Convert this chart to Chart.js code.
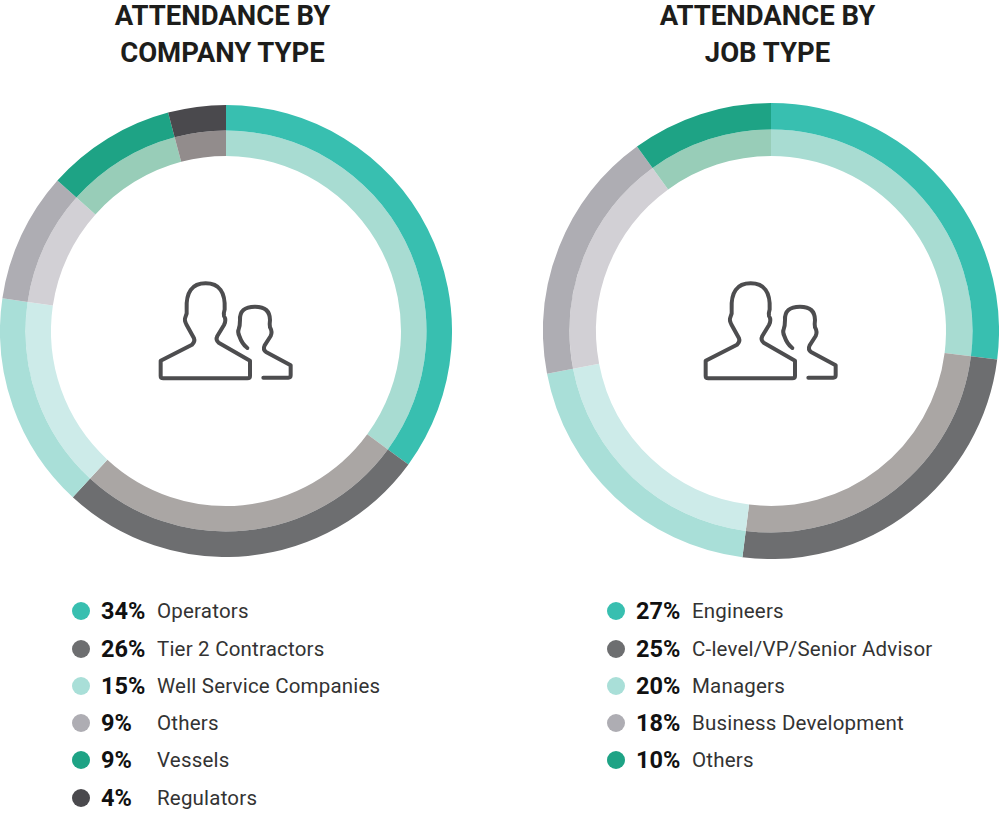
<!DOCTYPE html>
<html>
<head>
<meta charset="utf-8">
<title>Attendance</title>
<script src="https://cdn.jsdelivr.net/npm/chart.js@4"></script>
<style>
  html, body { margin: 0; padding: 0; background: #fff; }
  body { position: relative; width: 1000px; height: 813px; overflow: hidden; font-family: Roboto, sans-serif; }
  canvas { position: absolute; }
  .title { position: absolute; top: -3px; text-align: center; font-weight: 700; font-size: 27.5px; line-height: 37px; color: #1d1d1b; white-space: nowrap; }
  .row { position: absolute; height: 30px; line-height: 30px; font-size: 20.5px; letter-spacing: 0.2px; color: #333; white-space: nowrap; }
  .dot { position: absolute; left: 0; top: 6px; width: 18px; height: 18px; border-radius: 50%; }
  .pct { position: absolute; left: 29px; font-weight: 700; font-size: 23.5px; letter-spacing: 0; color: #111; }
  .name { position: absolute; left: 85px; }
  svg { position: absolute; top: 270px; }
</style>
</head>
<body>
<div class="title" style="left:0;width:445px">ATTENDANCE BY<br>COMPANY TYPE</div>
<div class="title" style="left:545px;width:445px">ATTENDANCE BY<br>JOB TYPE</div>
<canvas id="companyChart" width="452" height="452" style="left:0;top:105px;width:452px;height:452px"></canvas>
<canvas id="jobChart" width="456" height="456" style="left:543px;top:103px;width:456px;height:456px"></canvas>
<div id="legends"></div>

<script>
// Company type
const companyLabels = ["Operators", "Tier 2 Contractors", "Well Service Companies", "Others", "Vessels", "Regulators"];
const companyValues = [34, 26, 15, 9, 9, 4];
const companyOuter = ["#38bfb0", "#6d6e70", "#a9dfd8", "#aeadb3", "#1ea385", "#4a494d"];
const companyInner = ["#a8dcd2", "#aaa6a4", "#cdebe9", "#d2d0d5", "#98cdb8", "#928c8c"];

// Job type
const jobLabels = ["Engineers", "C-level/VP/Senior Advisor", "Managers", "Business Development", "Others"];
const jobValues = [27, 25, 20, 18, 10];
const jobOuter = ["#38bfb0", "#6d6e70", "#a9dfd8", "#aeadb3", "#1ea385"];
const jobInner = ["#a8dcd2", "#aaa6a4", "#cdebe9", "#d2d0d5", "#98cdb8"];

function ring(id, labels, values, outer, inner, cutout) {
  new Chart(document.getElementById(id), {
    type: "doughnut",
    data: {
      labels: labels,
      datasets: [
        { data: values, backgroundColor: outer, borderWidth: 0 },
        { data: values, backgroundColor: inner, borderWidth: 0 },
      ],
    },
    options: {
      responsive: false,
      animation: false,
      cutout: cutout,
      plugins: { legend: { display: false }, tooltip: { enabled: false } },
    },
  });
}

ring("companyChart", companyLabels, companyValues, companyOuter, companyInner, 175);
ring("jobChart", jobLabels, jobValues, jobOuter, jobInner, 175);

// Legends
function legend(labels, values, colors, x) {
  const rowY = [596, 634, 671, 708, 745, 783];
  labels.forEach((label, i) => {
    const row = document.createElement("div");
    row.className = "row";
    row.style.left = x + "px";
    row.style.top = rowY[i] + "px";
    row.innerHTML = '<span class="dot" style="background:' + colors[i] + '"></span>' +
      '<span class="pct">' + values[i] + '%</span><span class="name">' + label + "</span>";
    document.getElementById("legends").appendChild(row);
  });
}
legend(companyLabels, companyValues, companyOuter, 72);
legend(jobLabels, jobValues, jobOuter, 607);

// People icon in the middle of each ring
[140, 685].forEach((x) => {
  const svg = document.createElementNS("http://www.w3.org/2000/svg", "svg");
  svg.setAttribute("viewBox", "0 0 510 360");
  svg.setAttribute("width", 170);
  svg.setAttribute("height", 120);
  svg.style.left = x + "px";
  svg.innerHTML = '<g fill="none" stroke="#4d4d4f" stroke-width="12" stroke-linecap="round" stroke-linejoin="round">' +
    '<path d="M62 272 L62 318 Q62 325 70 325 L322 325 Q330 325 330 318 L330 272 L236 218 Q226 210 232 198 L252 165 Q260 150 252 138 Q250 130 254 118 Q258 40 197 40 Q136 40 140 118 Q142 130 136 142 Q132 150 140 165 L162 205 Q166 215 156 224 Z"/>' +
    '<path d="M370 323 L445 323 Q452 323 452 316 L452 286 L378 246 Q368 238 374 226 L392 198 Q398 186 390 172 Q388 165 390 150 Q390 110 345 110 Q298 110 300 150 Q300 168 296 178 Q292 186 298 198 Q306 222 322 234"/>' +
    "</g>";
  document.body.appendChild(svg);
});
</script>
</body>
</html>
